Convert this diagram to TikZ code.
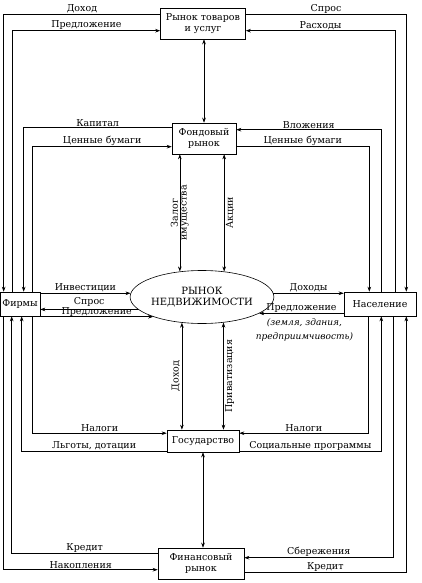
\documentclass[tikz,border=0pt]{standalone}
\usepackage{fontspec}
\setmainfont{DejaVu Serif}
\usepackage{tikz}
\usetikzlibrary{shapes.geometric, arrows.meta}
\tikzset{c-box/.style={rectangle, draw=black, fill=white, text centered, align=center, inner sep=1pt, font=\fontsize{9.5}{10.5}\selectfont},
c-oval/.style={ellipse, draw=black, fill=white, align=center, minimum width=137pt, minimum height=53pt, inner sep=0pt, font=\fontsize{10}{11.5}\selectfont},
c-label/.style={above, inner sep=1pt, font=\fontsize{9.5}{10.5}\selectfont},
c-vlabel/.style={rotate=90, inner sep=1.5pt, font=\fontsize{9.5}{10.5}\selectfont},
arrow/.style={->,>={Stealth[length=5pt,width=3.6pt]}},
darrow/.style={<->,>={Stealth[length=5pt,width=3.6pt]}}}

\begin{document}
\begin{tikzpicture}[x=1pt, y=-1pt, line width=0.6pt]
\useasboundingbox (0,0) rectangle (422,583);
\node (n0) [c-box, minimum width=85pt, minimum height=31pt] at (203,23.5) {Рынок товаров\\и услуг};
\node (n1) [c-box, minimum width=64pt, minimum height=31pt] at (204,138.5) {Фондовый\\рынок};
\node (n2) [c-oval] at (202,297) {РЫНОК\\НЕДВИЖИМОСТИ};
\node (n3) [c-box, minimum width=40pt, minimum height=24pt] at (20,304) {Фирмы};
\node (n4) [c-box, minimum width=72pt, minimum height=24pt] at (380,304) {Население};
\node (n5) [c-box, minimum width=72pt, minimum height=22pt] at (203,441) {Государство};
\node (n6) [c-box, minimum width=86pt, minimum height=31pt] at (201,563.5) {Финансовый\\рынок};
% goods market
\draw [arrow] ([yshift=-7pt]n0.north west) -| node[c-label, pos=0.25] {Доход} ([xshift=4pt]n3.north west);
\draw [arrow] ([xshift=13pt]n3.north west) |- node[c-label, pos=0.75] {Предложение} ([yshift=-23pt]n0.north west);
\draw [arrow] ([yshift=-7pt]n0.north east) -| node[c-label, pos=0.25] {Спрос} ([xshift=-10pt]n4.north east);
\draw [arrow] ([xshift=-21pt]n4.north east) |- node[c-label, pos=0.75] {Расходы} ([yshift=-23pt]n0.north east);
\draw [darrow] (n0.south -| n1.north) -- (n1.north);
% stock market
\draw [arrow] ([yshift=-5pt]n1.north west) -| node[c-label, pos=0.25] {Капитал} ([xshift=24pt]n3.north west);
\draw [arrow] ([xshift=33pt]n3.north west) |- node[c-label, pos=0.75] {Ценные бумаги} ([yshift=-24pt]n1.north west);
\draw [arrow] ([xshift=-35pt]n4.north east) |- node[c-label, pos=0.75] {Вложения} ([yshift=-7pt]n1.north east);
\draw [arrow] ([yshift=-24pt]n1.north east) -| node[c-label, pos=0.25] {Ценные бумаги} ([xshift=-47pt]n4.north east);
\draw [darrow] (n1.south -| n2.131) -- node[c-vlabel, anchor=south] {Залог} node[c-vlabel, anchor=north] {имущества} (n2.131);
\draw [darrow] (n1.south -| n2.49) -- node[c-vlabel, anchor=north] {Акции} (n2.49);
% real estate market
\draw [arrow] (n3.east |- n2.177) -- node[c-label] {Инвестиции} (n2.177);
\draw [arrow] (n2.191) -- node[c-label, yshift=1.5pt] {Спрос} (n3.east |- n2.191);
\draw [arrow] (n3.east |- n2.202) -- node[c-label, inner sep=0pt] {Предложение} (n2.202);
\draw [arrow] (n2.3) -- node[c-label] {Доходы} (n4.west |- n2.3);
\draw [arrow] (n4.west |- n2.344) -- node[c-label] {Предложение} node[below, inner sep=5pt, xshift=3pt, align=center, font=\fontsize{9}{13.5}\selectfont\itshape] {(земля, здания,\\предприимчивость)} (n2.344);
\draw [darrow] (n2.232) -- node[c-vlabel, anchor=south] {Доход} (n5.north -| n2.232);
\draw [darrow] (n2.310) -- node[c-vlabel, anchor=north] {Приватизация} (n5.north -| n2.310);
% state
\draw [arrow] ([xshift=33pt]n3.south west) |- node[c-label, pos=0.75] {Налоги} ([yshift=-3.5pt]n5.north west);
\draw [arrow] ([yshift=1pt]n5.south west) -| node[c-label, pos=0.25] {Льготы, дотации} ([xshift=22pt]n3.south west);
\draw [arrow] ([xshift=-48pt]n4.south east) |- node[c-label, pos=0.75] {Налоги} ([yshift=-3.5pt]n5.north east);
\draw [arrow] ([yshift=1pt]n5.south east) -| node[c-label, pos=0.25] {Социальные программы} ([xshift=-35pt]n4.south east);
\draw [darrow] (n5.south) -- (n5.south |- n6.north);
% financial market
\draw [arrow] ([yshift=-6pt]n6.north west) -| node[c-label, pos=0.25] {Кредит} ([xshift=12pt]n3.south west);
\draw [arrow] ([xshift=4pt]n3.south west) |- node[c-label, pos=0.75] {Накопления} ([yshift=-22pt]n6.north west);
\draw [arrow] ([xshift=-23pt]n4.south east) |- node[c-label, pos=0.75] {Сбережения} ([yshift=-10pt]n6.north east);
\draw [arrow] ([yshift=-25pt]n6.north east) -| node[c-label, pos=0.25] {Кредит} ([xshift=-10pt]n4.south east);
\end{tikzpicture}
\end{document}
